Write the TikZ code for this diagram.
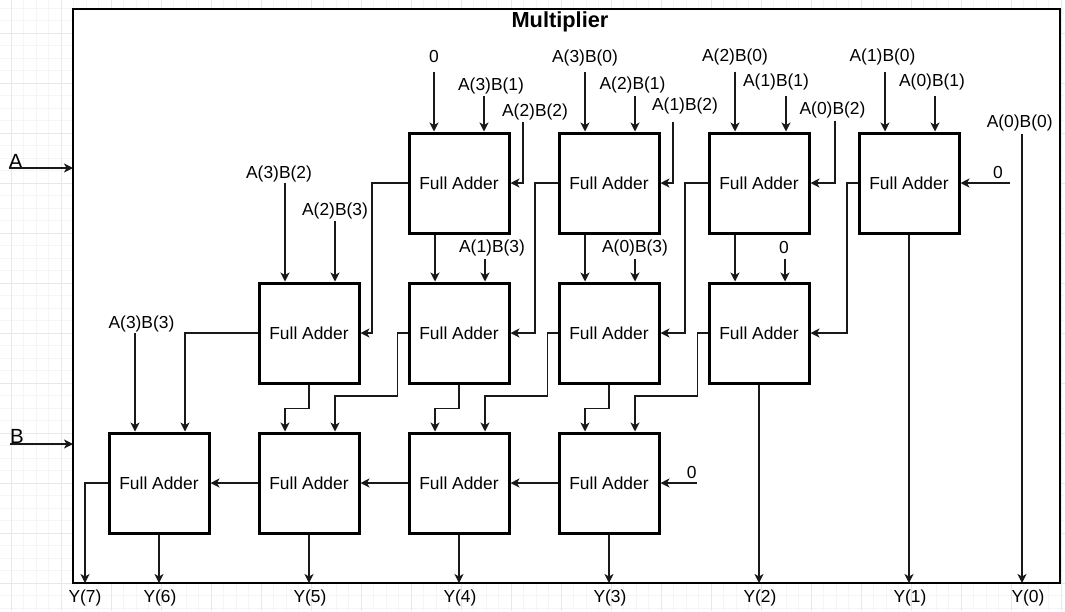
\documentclass[tikz,border=0pt]{standalone}
\usepackage{fontspec}
\setmainfont{Liberation Sans}
\usetikzlibrary{arrows.meta,calc}
\begin{document}
\begin{tikzpicture}[x=1pt,y=-1pt,
  fa/.style={draw, line width=3pt, minimum width=100pt, minimum height=100pt, inner sep=0pt, fill=white, font=\fontsize{17.4}{20}\selectfont},
  lbl/.style={inner sep=0pt, outer sep=0pt, anchor=base, font=\fontsize{17.4}{20}\selectfont},
  io/.style={inner sep=0pt, outer sep=0pt, anchor=base west, font=\fontsize{20.5}{24}\selectfont},
  wire/.style={line width=1.3pt, draw=black!90},
  arr/.style={wire, -{Stealth[length=9pt,width=9pt,inset=2.5pt]}},
  minorgrid/.style={line width=0.8pt, draw=black!4},
  majorgrid/.style={line width=0.8pt, draw=black!9},
]
\useasboundingbox (0,0) rectangle (1065,611);
% background grid
\foreach \k in {1,...,85} \draw[minorgrid] ({-1.5+12.5*\k},0) -- ({-1.5+12.5*\k},611);
\foreach \k in {1,...,49} \draw[minorgrid] (0,{-4.5+12.5*\k}) -- (1065,{-4.5+12.5*\k});
\foreach \k in {0,...,21} \draw[majorgrid] ({11+50*\k},0) -- ({11+50*\k},611);
\foreach \k in {0,...,11} \draw[majorgrid] (0,{33+50*\k}) -- (1065,{33+50*\k});

% outer box
\node[draw, line width=1.5pt, fill=white, minimum width=987pt, minimum height=574pt, inner sep=0pt, outer sep=0pt, anchor=north west] (outer) at (73,9) {};
\node[anchor=base, inner sep=0pt, font=\bfseries\fontsize{21.8}{24}\selectfont] (title) at (560,27.7) {Multiplier};

% A and B inputs
\node[io] (A) at (9,168) {A};
\node[io] (B) at (10,443) {B};
\coordinate (sA) at (9,168);
\coordinate (sB) at (10,444);
\draw[arr] (sA) -- (sA -| outer.west);
\draw[arr] (sB) -- (sB -| outer.west);

% full adders
\node[fa] (r1a) at (459,183) {Full Adder};
\node[fa] (r1b) at (609,183) {Full Adder};
\node[fa] (r1c) at (759,183) {Full Adder};
\node[fa] (r1d) at (909,183) {Full Adder};
\node[fa] (r2a) at (309,333) {Full Adder};
\node[fa] (r2b) at (459,333) {Full Adder};
\node[fa] (r2c) at (609,333) {Full Adder};
\node[fa] (r2d) at (759,333) {Full Adder};
\node[fa] (r3a) at (159,483) {Full Adder};
\node[fa] (r3b) at (309,483) {Full Adder};
\node[fa] (r3c) at (459,483) {Full Adder};
\node[fa] (r3d) at (609,483) {Full Adder};

% labels
\node[lbl] (l0a) at (434,62.3) {0};
\node[lbl] (l31) at (491,90) {A(3)B(1)};
\node[lbl] (l22) at (535,116) {A(2)B(2)};
\node[lbl] (l30) at (585,62.5) {A(3)B(0)};
\node[lbl] (l21) at (632.5,89.5) {A(2)B(1)};
\node[lbl] (l12) at (685,110) {A(1)B(2)};
\node[lbl] (l20) at (735,61) {A(2)B(0)};
\node[lbl] (l11) at (776,86.5) {A(1)B(1)};
\node[lbl] (l02) at (832.5,114.5) {A(0)B(2)};
\node[lbl] (l10) at (882.5,61) {A(1)B(0)};
\node[lbl] (l01) at (932,86.5) {A(0)B(1)};
\node[lbl] (l0b) at (998,178) {0};
\node[lbl] (l00) at (1019.7,127.5) {A(0)B(0)};
\node[lbl] (l32) at (279,178) {A(3)B(2)};
\node[lbl] (l23) at (335,215.5) {A(2)B(3)};
\node[lbl] (l13) at (492,252) {A(1)B(3)};
\node[lbl] (l03) at (635,252) {A(0)B(3)};
\node[lbl] (l0c) at (784,253) {0};
\node[lbl] (l33) at (141.5,328) {A(3)B(3)};
\node[lbl] (l0d) at (691.7,478) {0};
\node[lbl] (y7) at (85,602) {Y(7)};
\node[lbl] (y6) at (160,602) {Y(6)};
\node[lbl] (y5) at (310,602) {Y(5)};
\node[lbl] (y4) at (460,602) {Y(4)};
\node[lbl] (y3) at (610,602) {Y(3)};
\node[lbl] (y2) at (760,602) {Y(2)};
\node[lbl] (y1) at (910,602) {Y(1)};
\node[lbl] (y0) at (1028,602) {Y(0)};

% input start points
\coordinate (s0a) at (434,71.5);
\coordinate (s31) at (484,96);
\coordinate (s22) at (523,122);
\coordinate (s30) at (585,71.5);
\coordinate (s21) at (635,96);
\coordinate (s12) at (673,122);
\coordinate (s20) at (735,71.5);
\coordinate (s11) at (786,96);
\coordinate (s02) at (835,121);
\coordinate (s10) at (885,71.5);
\coordinate (s01) at (935,96);
\coordinate (s0b) at (1010,183);
\coordinate (s00) at (1022,134);
\coordinate (s32) at (285,183);
\coordinate (s23) at (335,221);
\coordinate (s13) at (485,259);
\coordinate (s03) at (635,259);
\coordinate (s0c) at (785,259);
\coordinate (s33) at (135,333);
\coordinate (s0d) at (697,483);
\coordinate (s7) at (85,483);

% top row inputs
\draw[arr] (s0a) -- (s0a |- r1a.north);
\draw[arr] (s31) -- (s31 |- r1a.north);
\draw[arr] (s22) |- (r1a.east);
\draw[arr] (s30) -- (s30 |- r1b.north);
\draw[arr] (s21) -- (s21 |- r1b.north);
\draw[arr] (s12) |- (r1b.east);
\draw[arr] (s20) -- (s20 |- r1c.north);
\draw[arr] (s11) -- (s11 |- r1c.north);
\draw[arr] (s02) |- (r1c.east);
\draw[arr] (s10) -- (s10 |- r1d.north);
\draw[arr] (s01) -- (s01 |- r1d.north);
\draw[arr] (s0b) -- (r1d.east);
\draw[arr] (s00) -- (s00 |- outer.south);

% second row inputs
\draw[arr] (s32) -- (s32 |- r2a.north);
\draw[arr] (s23) -- (s23 |- r2a.north);
\draw[arr] (s13) -- (s13 |- r2b.north);
\draw[arr] (s03) -- (s03 |- r2c.north);
\draw[arr] (s0c) -- (s0c |- r2d.north);

% row 1 -> row 2
\draw[arr] (r1a.west) -- ++(-35.5,0) |- (r2a.east);
\draw[arr] (r1b.west) -- ++(-22.5,0) |- (r2b.east);
\draw[arr] (r1c.west) -- ++(-22.5,0) |- (r2c.east);
\draw[arr] (r1d.west) -- ++(-10.5,0) |- (r2d.east);
\draw[arr] ([xshift=-24pt]r1a.south) -- ([xshift=-24pt]r2b.north);
\draw[arr] ([xshift=-24pt]r1b.south) -- ([xshift=-24pt]r2c.north);
\draw[arr] ([xshift=-24pt]r1c.south) -- ([xshift=-24pt]r2d.north);
\draw[arr] (r1d.south) -- (r1d.south |- outer.south);

% third row inputs
\draw[arr] (s33) -- (s33 |- r3a.north);
\draw[arr] (s0d) -- (r3d.east);

% row 2 -> row 3
\draw[arr] (r2a.west) -| ([xshift=26pt]r3a.north);
\draw[arr] (r2a.south) -- ++(0,24) -| ([xshift=-24pt]r3b.north);
\draw[arr] (r2b.west) -- ++(-10,0) -- ++(0,63) -| ([xshift=26pt]r3b.north);
\draw[arr] (r2b.south) -- ++(0,24) -| ([xshift=-24pt]r3c.north);
\draw[arr] (r2c.west) -- ++(-10,0) -- ++(0,63) -| ([xshift=26pt]r3c.north);
\draw[arr] (r2c.south) -- ++(0,24) -| ([xshift=-24pt]r3d.north);
\draw[arr] (r2d.west) -- ++(-10,0) -- ++(0,63) -| ([xshift=26pt]r3d.north);
\draw[arr] (r2d.south) -- (r2d.south |- outer.south);

% row 3 chain and outputs
\draw[arr] (r3d.west) -- (r3c.east);
\draw[arr] (r3c.west) -- (r3b.east);
\draw[arr] (r3b.west) -- (r3a.east);
\draw[arr] (r3a.west) -- (s7) -- (s7 |- outer.south);
\draw[arr] (r3a.south) -- (r3a.south |- outer.south);
\draw[arr] (r3b.south) -- (r3b.south |- outer.south);
\draw[arr] (r3c.south) -- (r3c.south |- outer.south);
\draw[arr] (r3d.south) -- (r3d.south |- outer.south);
\end{tikzpicture}
\end{document}
